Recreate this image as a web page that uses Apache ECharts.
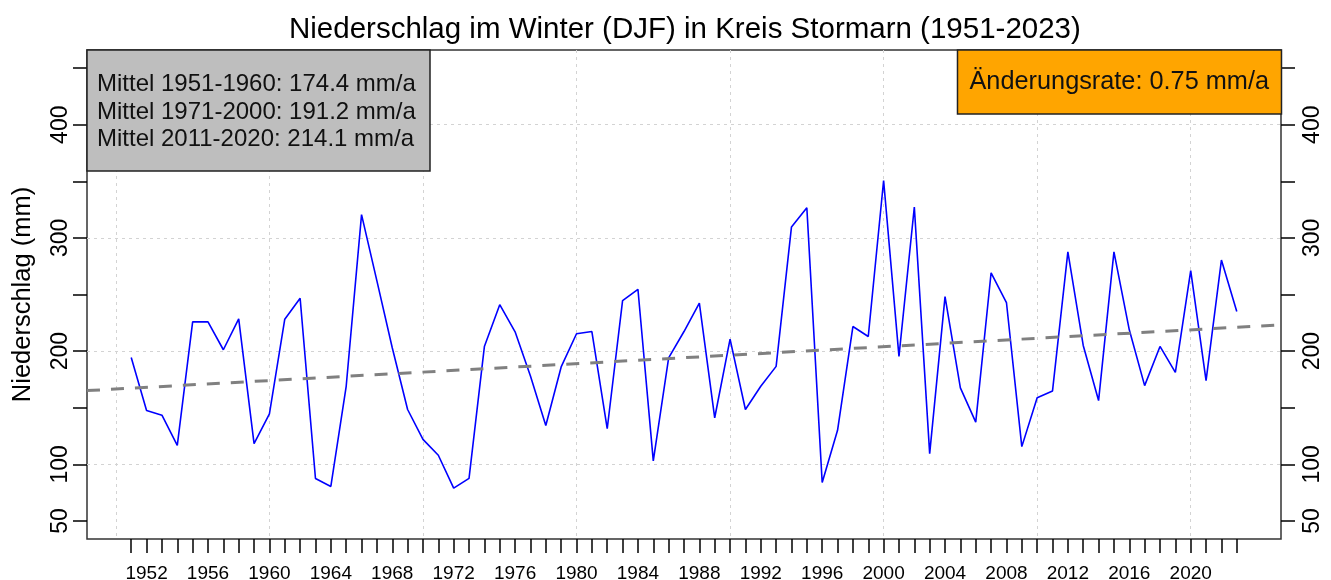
<!DOCTYPE html>
<html>
<head>
<meta charset="utf-8">
<title>Niederschlag im Winter (DJF) in Kreis Stormarn</title>
<script src="https://cdn.jsdelivr.net/npm/echarts@6.0.0/dist/echarts.min.js"></script>
<style>
  html, body { margin: 0; padding: 0; background: #fff; }
  #chart { width: 1331px; height: 580px; }
</style>
</head>
<body>
<div id="chart"></div>
<script>
// Winterniederschlag (DJF) in mm
var years = [];
for (var y = 1951; y <= 2023; y++) years.push(y);

var precip = [
  194.4, 147.5, 143.4, 116.7, 225.8, 225.8, 201.2, 228.5, 118.2, 144.6,
  228.2, 246.7, 87.4, 80.4, 168.9, 320.6, 262, 203, 148.4, 122,
  108, 79, 87.6, 204, 241, 217, 178, 134.3, 186, 215.3,
  217.3, 131.4, 244.6, 254.6, 103, 194, 217.3, 242.3, 141.1, 210.6,
  148.4, 169, 186.5, 309.7, 326.7, 83.9, 130, 221.7, 212.9, 350.7,
  195.3, 327.3, 109.4, 248.1, 167.5, 137.2, 269.2, 242.9, 115.6, 158.7,
  164.8, 287.7, 205, 156.3, 287.7, 218.8, 169.5, 204.1, 181.2, 271,
  173.9, 280.4, 234.9
];

// linearer Trend (Endpunkte am Rand des Plots)
var trendYears = [1948.12, 2025.88];
var trendValues = [165.1, 223.2];

var xTickYears = years;
var xLabelYears = [];
for (var y = 1952; y <= 2020; y += 4) xLabelYears.push(y);
var xGridYears = [1950, 1960, 1970, 1980, 1990, 2000, 2010, 2020];

var yTicks = [50, 100, 150, 200, 250, 300, 350, 400, 450];
var yLabels = [50, 100, 200, 300, 400];
var yGrid = [100, 200, 300, 400];

var meanText = [
  'Mittel 1951-1960: 174.4 mm/a',
  'Mittel 1971-2000: 191.2 mm/a',
  'Mittel 2011-2020: 214.1 mm/a'
];
var rateText = 'Änderungsrate: 0.75 mm/a';

var X_MIN = 1948.12, X_MAX = 2025.88;
var Y_MIN = 34, Y_MAX = 466;
var FONT = 'Liberation Sans, Arial, sans-serif';

var lineData = years.map(function (yr, i) { return [yr, precip[i]]; });
var trendData = trendYears.map(function (yr, i) { return [yr, trendValues[i]]; });

var chart = echarts.init(document.getElementById('chart'));

var tickStyle = { color: '#000', width: 1.5 };
var gridStyle = { color: '#d3d3d3', type: [3, 4], width: 1 };
var plainNum = function (v) { return String(v); };

var option = {
  animation: false,
  textStyle: { fontFamily: FONT },
  title: [
    {
      text: 'Niederschlag im Winter (DJF) in Kreis Stormarn (1951-2023)',
      left: 284,
      top: 10,
      textStyle: { fontSize: 29.5, fontWeight: 'normal', color: '#000', fontFamily: FONT }
    },
    {
      text: meanText.join('\n'),
      left: 87,
      top: 50,
      backgroundColor: '#bebebe',
      borderColor: '#222',
      borderWidth: 1.5,
      padding: [21, 14, 18, 10],
      textStyle: { fontSize: 24, fontWeight: 'normal', color: '#111', lineHeight: 27.5, fontFamily: FONT }
    },
    {
      text: rateText,
      right: 49,
      top: 50,
      backgroundColor: '#ffa500',
      borderColor: '#222',
      borderWidth: 1.5,
      padding: [18, 13, 18, 12],
      textStyle: { fontSize: 25.3, fontWeight: 'normal', color: '#111', lineHeight: 28, fontFamily: FONT }
    }
  ],
  grid: {
    left: 87, right: 50, top: 50, bottom: 41,
    outerBoundsMode: 'none',
    show: true,
    borderColor: '#333',
    borderWidth: 1.5,
    backgroundColor: 'transparent'
  },
  xAxis: [
    {
      type: 'value', min: X_MIN, max: X_MAX, position: 'bottom',
      axisLine: { show: false },
      axisTick: { show: true, length: 14, customValues: xTickYears, lineStyle: tickStyle },
      axisLabel: { customValues: xLabelYears, formatter: plainNum, fontSize: 19, color: '#000', margin: 25, fontFamily: FONT },
      splitLine: { show: false }
    },
    {
      type: 'value', min: X_MIN, max: X_MAX, position: 'top',
      axisLine: { show: false },
      axisTick: { show: false, customValues: xGridYears },
      axisLabel: { show: false, customValues: xGridYears },
      splitLine: { show: true, lineStyle: gridStyle }
    }
  ],
  yAxis: [
    {
      type: 'value', min: Y_MIN, max: Y_MAX, position: 'left',
      name: 'Niederschlag (mm)', nameLocation: 'middle', nameGap: 51,
      nameTextStyle: { fontSize: 25.5, color: '#000', fontFamily: FONT },
      axisLine: { show: false },
      axisTick: { show: true, length: 14, customValues: yTicks, lineStyle: tickStyle },
      axisLabel: { customValues: yLabels, formatter: plainNum, rotate: 90, fontSize: 23, color: '#000', margin: 15, fontFamily: FONT },
      splitLine: { show: false }
    },
    {
      type: 'value', min: Y_MIN, max: Y_MAX, position: 'right',
      axisLine: { show: false },
      axisTick: { show: true, length: 14, customValues: yTicks, lineStyle: tickStyle },
      axisLabel: { customValues: yLabels, formatter: plainNum, rotate: 90, fontSize: 23, color: '#000', margin: 20, fontFamily: FONT },
      splitLine: { show: false }
    },
    {
      type: 'value', min: Y_MIN, max: Y_MAX, position: 'left',
      axisLine: { show: false },
      axisTick: { show: false, customValues: yGrid },
      axisLabel: { show: false, customValues: yGrid },
      splitLine: { show: true, lineStyle: gridStyle }
    }
  ],
  series: [
    {
      name: 'Niederschlag',
      type: 'line',
      xAxisIndex: 0, yAxisIndex: 0,
      data: lineData,
      showSymbol: false,
      lineStyle: { color: '#0000ff', width: 1.6 },
      z: 3
    },
    {
      name: 'Trend',
      type: 'line',
      xAxisIndex: 0, yAxisIndex: 0,
      data: trendData,
      showSymbol: false,
      lineStyle: { color: '#808080', width: 3, type: [13, 11] },
      z: 4
    }
  ]
};

chart.setOption(option);
</script>
</body>
</html>
